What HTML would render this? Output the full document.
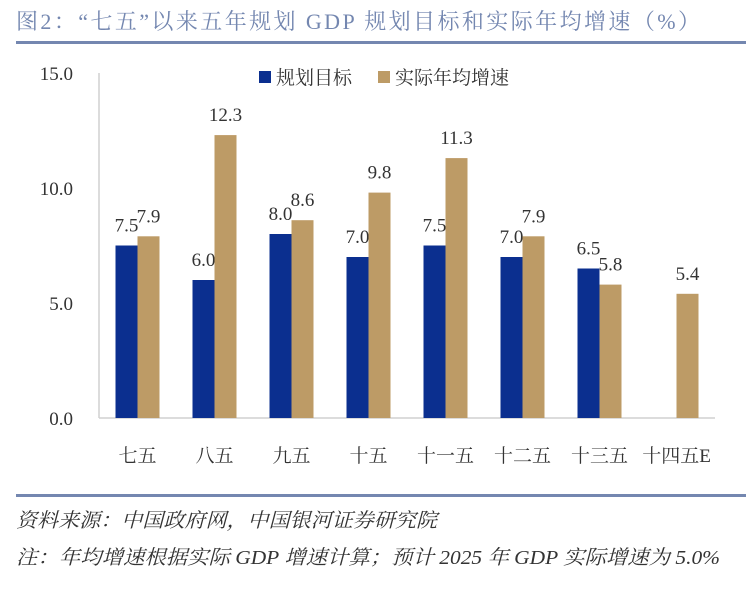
<!DOCTYPE html>
<html><head><meta charset="utf-8"><style>
body{margin:0;background:#fff;width:756px;height:589px;overflow:hidden;font-family:"Liberation Serif","Noto Serif CJK SC",serif;}
svg text{font-family:"Liberation Serif","Noto Serif CJK SC",serif;}
</style></head><body>
<svg width="756" height="589">
<text x="16" y="29" font-size="22" fill="#7487b0" textLength="684" lengthAdjust="spacing">图2：“七五”以来五年规划 GDP 规划目标和实际年均增速（%）</text>
<rect x="16" y="41" width="730" height="3" fill="#7487b0"/>
<g id="plot"></g>
<rect x="16" y="494" width="730" height="3" fill="#7487b0"/>
<text x="16" y="527" font-size="20" font-style="italic" fill="#333" textLength="421" lengthAdjust="spacingAndGlyphs">资料来源：中国政府网，中国银河证券研究院</text>
<text x="16" y="564" font-size="20" font-style="italic" fill="#333" textLength="704" lengthAdjust="spacingAndGlyphs">注：年均增速根据实际 GDP 增速计算；预计 2025 年 GDP 实际增速为 5.0%</text>
</svg>
<script>
const categories=["七五","八五","九五","十五","十一五","十二五","十三五","十四五E"];
const planned=[7.5,6.0,8.0,7.0,7.5,7.0,6.5,null];
const actual=[7.9,12.3,8.6,9.8,11.3,7.9,5.8,5.4];
const yTicks=[0,5,10,15];
const yTickLabels=["0.0","5.0","10.0","15.0"];
const NS="http://www.w3.org/2000/svg";
const g=document.getElementById('plot');
const x0=99,step=77,yBase=418,yTop=73,ymax=15;
const y=v=>yBase-(v/ymax)*(yBase-yTop);
const cx=i=>x0+step*(i+0.5);
function mk(t,a){const e=document.createElementNS(NS,t);for(const k in a)e.setAttribute(k,a[k]);g.appendChild(e);return e;}
let e;
e=mk('line',{x1:x0,y1:yTop,x2:x0,y2:yBase,stroke:'#d0d0d0','stroke-width':1.5});


e=mk('line',{x1:x0,y1:yBase,x2:x0+step*categories.length,y2:yBase,stroke:'#d0d0d0','stroke-width':1.5});


yTicks.forEach((t,i)=>{
 e=mk('text',{x:73,y:y(t)+7,'font-size':19,'text-anchor':'end',fill:'#333'});e.textContent=yTickLabels[i];
 
 
});
categories.forEach((c,i)=>{
 e=mk('text',{x:cx(i),y:462,'font-size':19,'text-anchor':'middle',fill:'#333'});e.textContent=c;
 
 
 const w=22;
 if(planned[i]!=null){
  e=mk('rect',{x:cx(i)-w,y:y(planned[i]),width:w,height:yBase-y(planned[i]),fill:'#0b2f8f'});
  
  
  e=mk('text',{x:cx(i)-w/2,y:y(planned[i])-14,'font-size':19,'text-anchor':'middle',fill:'#333'});e.textContent=planned[i].toFixed(1);
  
  
 }
 e=mk('rect',{x:cx(i),y:y(actual[i]),width:w,height:yBase-y(actual[i]),fill:'#bd9b66'});
 
 
 e=mk('text',{x:cx(i)+w/2,y:y(actual[i])-14,'font-size':19,'text-anchor':'middle',fill:'#333'});e.textContent=actual[i].toFixed(1);
 
 
});
e=mk('rect',{x:259,y:71,width:12,height:12,fill:'#0b2f8f'});


e=mk('text',{x:276,y:84,'font-size':19,fill:'#333'});e.textContent='规划目标';


e=mk('rect',{x:378,y:71,width:12,height:12,fill:'#bd9b66'});


e=mk('text',{x:395,y:84,'font-size':19,fill:'#333'});e.textContent='实际年均增速';


</script>
</body></html>
